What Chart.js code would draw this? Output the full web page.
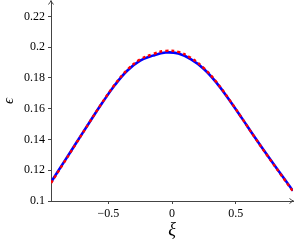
<!DOCTYPE html>
<html>
<head>
<meta charset="utf-8">
<script src="https://cdn.jsdelivr.net/npm/chart.js@4.4.1/dist/chart.umd.min.js"></script>
<style>
  body { margin: 0; background: #fff; }
  #wrap { width: 295px; height: 245px; }
</style>
</head>
<body>
<div id="wrap"><canvas id="myChart" width="295" height="245"></canvas></div>
<script>
// xi positions
var xiValues = [-0.95, -0.85, -0.75, -0.65, -0.55, -0.45, -0.35, -0.25, -0.15, -0.05,
                0.05, 0.15, 0.25, 0.35, 0.45, 0.55, 0.65, 0.75, 0.85, 0.95];
// solid blue curve
var epsBlue = [0.1122, 0.1251, 0.1380, 0.1509, 0.1635, 0.1752, 0.1848, 0.1912, 0.1945, 0.1965,
               0.1958, 0.1920, 0.1858, 0.1768, 0.1657, 0.1537, 0.1414, 0.1295, 0.1180, 0.1066];
// dashed red curve
var epsRed = [0.1117, 0.1247, 0.1378, 0.1509, 0.1637, 0.1756, 0.1854, 0.1920, 0.1955, 0.1976,
              0.1969, 0.1929, 0.1864, 0.1772, 0.1659, 0.1537, 0.1413, 0.1293, 0.1177, 0.1062];
var xTicks = [-0.5, 0, 0.5];
var yTicks = [0.1, 0.12, 0.14, 0.16, 0.18, 0.2, 0.22];

function pts(ys) {
    return xiValues.map(function(x, i) { return {x: x, y: ys[i]}; });
}
function fmt(v) {
    var s = String(Math.round(v * 1000) / 1000);
    return s.replace('-', '\u2212');
}

var axisColor = '#444';
var arrows = {
    id: 'arrows',
    afterDraw: function(chart) {
        var ctx = chart.ctx, a = chart.chartArea;
        ctx.save();
        ctx.strokeStyle = axisColor;
        ctx.lineWidth = 1;
        ctx.beginPath();
        // y axis arrow
        ctx.moveTo(a.left - 2.5, a.top + 3.5);
        ctx.quadraticCurveTo(a.left - 0.5, a.top + 1, a.left, a.top - 0.5);
        ctx.quadraticCurveTo(a.left + 0.5, a.top + 1, a.left + 2.5, a.top + 3.5);
        // x axis arrow
        ctx.moveTo(a.right - 3.5, a.bottom - 2.5);
        ctx.quadraticCurveTo(a.right - 1, a.bottom - 0.5, a.right + 0.5, a.bottom);
        ctx.quadraticCurveTo(a.right - 1, a.bottom + 0.5, a.right - 3.5, a.bottom + 2.5);
        ctx.stroke();
        ctx.restore();
    }
};

var serif = 'Liberation Serif';
var ctx = document.getElementById('myChart').getContext('2d');
var myChart = new Chart(ctx, {
    type: 'line',
    plugins: [arrows],
    data: {
        datasets: [{
            label: 'red',
            data: pts(epsRed),
            borderColor: '#ff0000',
            borderWidth: 2.4,
            borderDash: [3, 3],
            pointRadius: 0,
            tension: 0.4,
            fill: false,
            order: 0
        }, {
            label: 'blue',
            data: pts(epsBlue),
            borderColor: '#0000ff',
            borderWidth: 2.6,
            pointRadius: 0,
            tension: 0.4,
            fill: false,
            order: 1
        }]
    },
    options: {
        responsive: false,
        animation: false,
        layout: { padding: { top: 1, right: 2, left: 0, bottom: 0 } },
        plugins: {
            legend: { display: false },
            tooltip: { enabled: false }
        },
        scales: {
            x: {
                type: 'linear',
                min: -0.95,
                max: 0.95,
                afterBuildTicks: function(s) {
                    s.ticks = xTicks.map(function(v) { return {value: v}; });
                },
                afterFit: function(s) { s.height = 44; s.paddingLeft = 0; s.paddingRight = 0; },
                border: { color: axisColor, width: 1 },
                grid: { drawOnChartArea: false, tickLength: 3, color: axisColor },
                ticks: {
                    color: '#000',
                    padding: 3,
                    font: { family: serif, size: 12 },
                    callback: function(v) { return fmt(v); }
                },
                title: {
                    display: true,
                    text: '\u03be',
                    color: '#000',
                    padding: { top: 3 },
                    font: { family: serif, size: 18, style: 'italic' }
                }
            },
            y: {
                min: 0.1,
                max: 0.23,
                afterBuildTicks: function(s) {
                    s.ticks = yTicks.map(function(v) { return {value: v}; });
                },
                afterFit: function(s) { s.width = 51; s.paddingTop = 0; s.paddingBottom = 0; },
                border: { color: axisColor, width: 1 },
                grid: { drawOnChartArea: false, tickLength: 3, color: axisColor },
                ticks: {
                    color: '#000',
                    padding: 3,
                    font: { family: serif, size: 12 },
                    callback: function(v) { return fmt(v); }
                },
                title: {
                    display: true,
                    text: '\u03f5',
                    color: '#000',
                    padding: { top: 0, bottom: 4 },
                    font: { family: serif, size: 15, style: 'italic' }
                }
            }
        }
    }
});
</script>
</body>
</html>
